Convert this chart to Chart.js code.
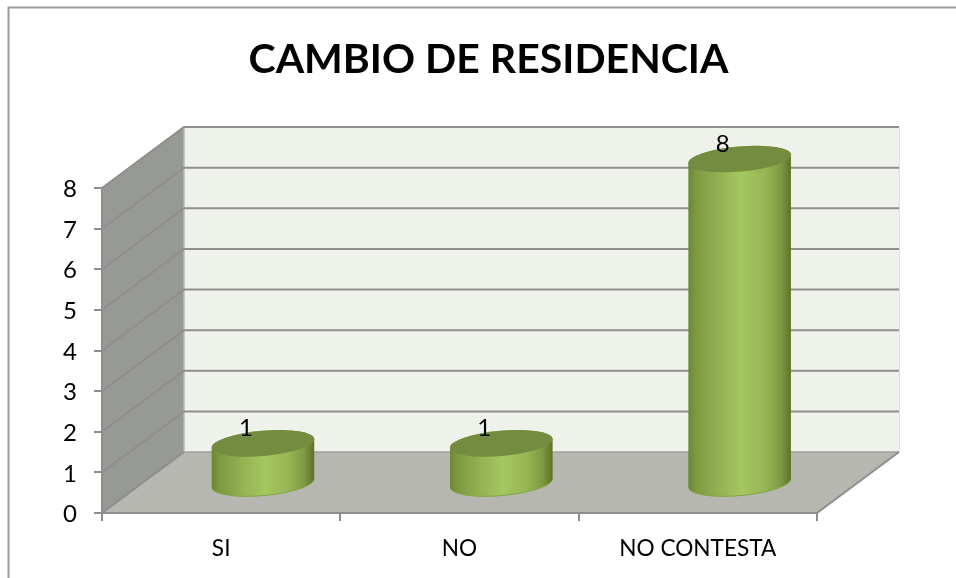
<!DOCTYPE html>
<html><head><meta charset="utf-8">
<script src="https://cdn.jsdelivr.net/npm/chart.js@4"></script>
<style>html,body{margin:0;padding:0;background:#fff}#w{width:956px;height:578px;position:relative}</style>
</head><body><div id="w"><canvas id="c" width="956" height="578"></canvas></div>
<script>
const categories = ['SI', 'NO', 'NO CONTESTA'];
const values = [1, 1, 8];
const yTicks = [0, 1, 2, 3, 4, 5, 6, 7, 8];
const chartTitle = 'CAMBIO DE RESIDENCIA';

const FONT = 'Lato, Carlito, Calibri, sans-serif';
const DEPTH_X = 82, DEPTH_Y = 61, BAR_DX = 41.8, BAR_DY = 29;
const RX_TILT = -5 * Math.PI / 180, RY = 12.6;

const scene = {
  id: 'scene',
  afterLayout(chart) {
    const t = chart.titleBlock;
    if (t) { t.left = 21; t.right = 956; }
  },
  beforeDraw(chart) {
    const { ctx, scales: { x, y } } = chart;
    const L = x.left, R = x.right, y0 = y.getPixelForValue(0), yT = y.getPixelForValue(8);
    const items = y.getLabelItems();
    if (!items._shifted) {
      items.forEach(it => { it.options.translation[1] += 1.5; });
      items._shifted = true;
    }
    ctx.save();
    // outer frame
    ctx.strokeStyle = '#9a9a9a'; ctx.lineWidth = 2;
    ctx.beginPath(); ctx.moveTo(8.5, 578); ctx.lineTo(8.5, 7.5); ctx.lineTo(956, 7.5); ctx.stroke();
    // back wall
    ctx.fillStyle = '#eff2eb';
    ctx.fillRect(L + DEPTH_X, yT - DEPTH_Y, R - L, y0 - yT);
    ctx.strokeStyle = '#dfe1dc'; ctx.lineWidth = 1;
    ctx.beginPath(); ctx.moveTo(R + DEPTH_X + .5, yT - DEPTH_Y); ctx.lineTo(R + DEPTH_X + .5, y0 - DEPTH_Y); ctx.stroke();
    // side wall
    ctx.fillStyle = '#979a94';
    ctx.beginPath(); ctx.moveTo(L, y0); ctx.lineTo(L, yT); ctx.lineTo(L + DEPTH_X, yT - DEPTH_Y); ctx.lineTo(L + DEPTH_X, y0 - DEPTH_Y); ctx.closePath(); ctx.fill();
    // floor
    ctx.fillStyle = '#b5b7b0';
    ctx.beginPath(); ctx.moveTo(L, y0); ctx.lineTo(R, y0); ctx.lineTo(R + DEPTH_X, y0 - DEPTH_Y); ctx.lineTo(L + DEPTH_X, y0 - DEPTH_Y); ctx.closePath(); ctx.fill();
    // wall corner
    ctx.strokeStyle = '#b9bbb6'; ctx.lineWidth = 1.5;
    ctx.beginPath(); ctx.moveTo(L + DEPTH_X, yT - DEPTH_Y); ctx.lineTo(L + DEPTH_X, y0 - DEPTH_Y); ctx.stroke();
    // gridlines across side and back walls
    yTicks.forEach(v => {
      const p = y.getPixelForValue(v);
      ctx.strokeStyle = '#8e8e8e'; ctx.lineWidth = 2;
      ctx.beginPath();
      ctx.moveTo(L, p); ctx.lineTo(L + DEPTH_X, p - DEPTH_Y);
      if (v !== 0) ctx.lineTo(R + DEPTH_X, p - DEPTH_Y);
      ctx.stroke();
    });
    ctx.strokeStyle = '#9fa19c'; ctx.lineWidth = 1.5;
    ctx.beginPath(); ctx.moveTo(L + DEPTH_X, y0 - DEPTH_Y); ctx.lineTo(R + DEPTH_X, y0 - DEPTH_Y); ctx.stroke();
    ctx.strokeStyle = '#8e8e8e'; ctx.lineWidth = 2;
    ctx.beginPath(); ctx.moveTo(R, y0); ctx.lineTo(R + DEPTH_X, y0 - DEPTH_Y); ctx.stroke();
    ctx.restore();
  },
  beforeDatasetDraw(chart, args) {
    const { ctx } = chart;
    const meta = args.meta;
    meta.data.forEach((el, i) => {
      const p = el.getProps(['x', 'y', 'base', 'width'], true);
      const cx = p.x + BAR_DX, top = p.y - BAR_DY, base = p.base - BAR_DY, rx = p.width / 2;
      const g = ctx.createLinearGradient(cx - rx, 0, cx + rx, 0);
      g.addColorStop(0, '#6d8536');
      g.addColorStop(0.08, '#7d9a41');
      g.addColorStop(0.3, '#93b252');
      g.addColorStop(0.52, '#a4c75f');
      g.addColorStop(0.75, '#96b554');
      g.addColorStop(0.9, '#7e9a42');
      g.addColorStop(1, '#5a7229');
      ctx.save();
      ctx.beginPath();
      ctx.ellipse(cx, base, rx, RY, RX_TILT, 0, Math.PI);
      ctx.ellipse(cx, top, rx, RY, RX_TILT, Math.PI, Math.PI * 2);
      ctx.closePath();
      ctx.fillStyle = g; ctx.fill();
      ctx.beginPath();
      ctx.ellipse(cx, base, rx, RY, RX_TILT, 0.15, Math.PI - 0.15);
      ctx.strokeStyle = '#86a545'; ctx.lineWidth = 1; ctx.stroke();
      ctx.beginPath();
      ctx.ellipse(cx, top, rx, RY, RX_TILT, 0, Math.PI * 2);
      ctx.fillStyle = '#748c3f'; ctx.fill();
      ctx.fillStyle = '#000';
      ctx.font = '24px ' + FONT;
      ctx.textAlign = 'center'; ctx.textBaseline = 'alphabetic';
      ctx.fillText(String(values[i]), cx - 17, top - 7);
      ctx.restore();
    });
    return false;
  }
};

new Chart(document.getElementById('c'), {
  type: 'bar',
  data: {
    labels: categories,
    datasets: [{ data: values, backgroundColor: '#a4c75f', barPercentage: 0.432, categoryPercentage: 1 }]
  },
  plugins: [scene],
  options: {
    responsive: false,
    animation: false,
    layout: { padding: { left: 0, right: 139, top: 0, bottom: 0 } },
    plugins: {
      legend: { display: false },
      tooltip: { enabled: false },
      title: {
        display: true, text: chartTitle, color: '#000',
        font: { family: FONT, size: 41, weight: 'bold', lineHeight: 1.2 },
        padding: { top: 35, bottom: 103.8 }
      }
    },
    scales: {
      x: {
        offset: true,
        afterFit: s => { s.height = 65; },
        grid: { display: true, drawOnChartArea: false, drawTicks: true, tickLength: 8, color: '#8e8e8e', lineWidth: 2 },
        border: { display: true, color: '#8e8e8e', width: 2 },
        ticks: { color: '#000', font: { family: FONT, size: 22.6 }, padding: 14, maxRotation: 0 }
      },
      y: {
        min: 0, max: 8,
        afterFit: s => { s.width = 102; },
        afterBuildTicks: s => { s.ticks = yTicks.map(v => ({ value: v })); },
        grid: { display: true, drawOnChartArea: false, drawTicks: true, tickLength: 8, color: '#8e8e8e', lineWidth: 2 },
        border: { display: true, color: '#8e8e8e', width: 2 },
        ticks: { color: '#000', font: { family: FONT, size: 24 }, padding: 17 }
      }
    }
  }
});
</script></body></html>
